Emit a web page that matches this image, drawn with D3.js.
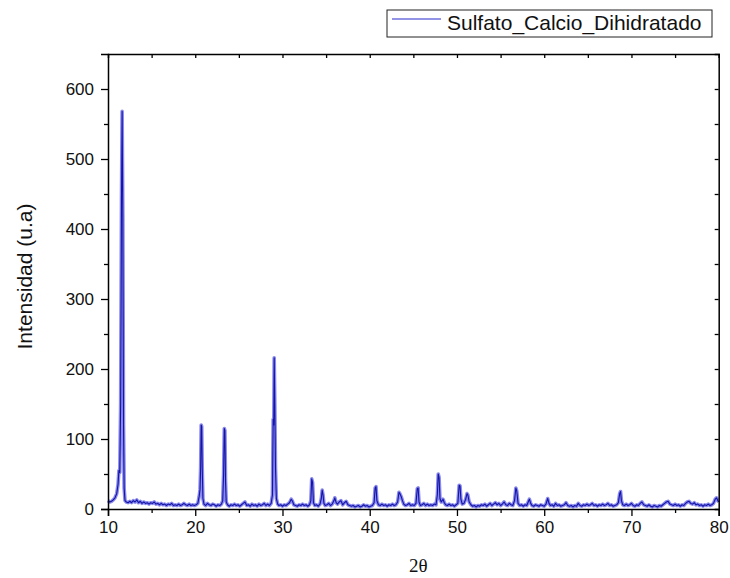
<!DOCTYPE html>
<html>
<head>
<meta charset="utf-8">
<script src="https://cdn.jsdelivr.net/npm/d3@7"></script>
<style>
  body { margin: 0; background: #fff; }
  svg { display: block; }
</style>
</head>
<body>
<div id="chart"></div>
<script>
// XRD pattern
var seriesName = "Sulfato_Calcio_Dihidratado";

var twoTheta = [
  10.0, 10.2, 10.4, 10.6, 10.8, 11.0, 11.15, 11.25, 11.35, 11.45, 11.55, 11.62, 11.7, 11.78, 11.85, 11.95,
  12.1, 12.3, 12.5, 12.7, 12.9, 13.1, 13.3, 13.5, 13.7, 13.9, 14.1, 14.3, 14.5, 14.7, 14.9,
  15.1, 15.3, 15.5, 15.7, 15.9, 16.1, 16.3, 16.5, 16.7, 16.9, 17.1, 17.3, 17.5, 17.7, 17.9,
  18.1, 18.3, 18.5, 18.7, 18.9, 19.1, 19.3, 19.5, 19.7, 19.9, 20.1, 20.3, 20.45, 20.55, 20.62,
  20.68, 20.74, 20.8, 20.88, 21.0, 21.2, 21.4, 21.6, 21.8, 22.0, 22.2, 22.4, 22.6, 22.8, 23.0,
  23.15, 23.25, 23.33, 23.4, 23.47, 23.55, 23.7, 23.9, 24.1, 24.3, 24.5, 24.7, 24.9,
  25.1, 25.3, 25.5, 25.7, 25.9, 26.1, 26.3, 26.5, 26.7, 26.9, 27.1, 27.3, 27.5, 27.7, 27.9,
  28.1, 28.3, 28.5, 28.7, 28.85, 28.93, 29.0, 29.05, 29.12, 29.2, 29.3, 29.45, 29.6, 29.8,
  30.0, 30.2, 30.4, 30.6, 30.8, 31.0, 31.15, 31.3, 31.5, 31.7, 31.9, 32.1, 32.3, 32.5, 32.7, 32.9,
  33.1, 33.25, 33.35, 33.45, 33.55, 33.7, 33.9, 34.1, 34.3, 34.45, 34.55, 34.65, 34.75, 34.9,
  35.1, 35.3, 35.5, 35.7, 35.9, 36.0, 36.15, 36.3, 36.5, 36.7, 36.9, 37.1, 37.3, 37.5, 37.7, 37.9,
  38.1, 38.3, 38.5, 38.7, 38.9, 39.1, 39.3, 39.5, 39.7, 39.9, 40.1, 40.3, 40.5, 40.62, 40.72, 40.82,
  41.0, 41.2, 41.4, 41.6, 41.8, 42.0, 42.2, 42.4, 42.6, 42.8, 43.0, 43.2, 43.35, 43.45, 43.6, 43.75, 43.9,
  44.1, 44.3, 44.5, 44.7, 44.9, 45.1, 45.3, 45.45, 45.55, 45.65, 45.8, 46.0, 46.2, 46.4, 46.6, 46.8,
  47.0, 47.2, 47.4, 47.6, 47.75, 47.85, 47.95, 48.05, 48.2, 48.4, 48.55, 48.7, 48.9,
  49.1, 49.3, 49.5, 49.7, 49.9, 50.1, 50.25, 50.35, 50.45, 50.6, 50.8, 51.0, 51.15, 51.25, 51.4, 51.6, 51.8,
  52.0, 52.2, 52.4, 52.6, 52.8, 53.0, 53.2, 53.4, 53.6, 53.8, 54.0, 54.2, 54.4, 54.6, 54.8,
  55.0, 55.2, 55.4, 55.6, 55.8, 56.0, 56.2, 56.4, 56.6, 56.75, 56.85, 57.0, 57.2, 57.4, 57.6, 57.8,
  58.0, 58.2, 58.3, 58.45, 58.6, 58.8, 59.0, 59.2, 59.4, 59.6, 59.8, 60.0, 60.2, 60.4, 60.55, 60.7, 60.9,
  61.1, 61.3, 61.5, 61.7, 61.9, 62.1, 62.3, 62.5, 62.7, 62.9, 63.1, 63.3, 63.5, 63.7, 63.9,
  64.1, 64.3, 64.5, 64.7, 64.9, 65.1, 65.3, 65.5, 65.7, 65.9, 66.1, 66.3, 66.5, 66.7, 66.9,
  67.1, 67.3, 67.5, 67.7, 67.9, 68.1, 68.3, 68.5, 68.65, 68.75, 68.85, 69.0, 69.2, 69.4, 69.6, 69.8,
  70.0, 70.2, 70.4, 70.6, 70.8, 71.0, 71.2, 71.4, 71.6, 71.8, 72.0, 72.2, 72.4, 72.6, 72.8,
  73.0, 73.2, 73.4, 73.6, 73.8, 74.0, 74.2, 74.4, 74.6, 74.8, 75.0, 75.2, 75.4, 75.6, 75.8,
  76.0, 76.2, 76.4, 76.6, 76.8, 77.0, 77.2, 77.4, 77.6, 77.8, 78.0, 78.2, 78.4, 78.6, 78.8,
  79.0, 79.2, 79.4, 79.6, 79.75, 79.9, 80.0
];

var intensity = [
  12, 10, 11, 13, 16, 22, 35, 55, 52, 150, 450, 568, 420, 120, 30, 12,
  10, 9, 11, 9, 12, 10, 13, 9, 11, 8, 10, 8, 9, 7, 9,
  8, 10, 7, 8, 6, 8, 6, 7, 5, 7, 6, 8, 5, 6, 5,
  7, 5, 6, 8, 6, 5, 7, 5, 6, 5, 6, 8, 18, 28, 60,
  120, 118, 60, 15, 7, 5, 8, 6, 5, 7, 6, 4, 6, 5, 7,
  12, 50, 115, 112, 40, 10, 6, 4, 6, 5, 7, 5, 6,
  4, 6, 8, 10, 5, 6, 4, 7, 5, 6, 4, 7, 5, 6, 8,
  5, 7, 5, 8, 20, 128, 120, 216, 150, 58, 15, 7, 5, 6,
  4, 6, 5, 7, 9, 14, 11, 6, 5, 4, 6, 5, 7, 5, 6, 4,
  6, 12, 43, 38, 9, 5, 6, 4, 7, 15, 27, 20, 8, 5,
  6, 8, 5, 7, 12, 16, 9, 7, 10, 12, 6, 9, 11, 6, 5, 4,
  5, 3, 4, 5, 3, 4, 6, 4, 5, 3, 4, 5, 9, 30, 32, 12,
  6, 5, 7, 5, 6, 4, 6, 5, 7, 5, 6, 10, 24, 22, 18, 12, 7,
  5, 6, 8, 5, 6, 5, 8, 29, 30, 10, 5, 6, 8, 5, 7, 5,
  6, 5, 7, 6, 20, 50, 45, 15, 10, 14, 9, 6, 5,
  7, 5, 6, 4, 6, 8, 34, 33, 14, 7, 8, 14, 22, 20, 10, 6, 4,
  5, 3, 5, 4, 6, 5, 7, 4, 6, 8, 5, 7, 9, 6, 8,
  5, 7, 10, 6, 5, 8, 6, 5, 12, 30, 26, 8, 5, 6, 4, 6,
  5, 11, 14, 8, 5, 4, 6, 5, 4, 6, 5, 4, 7, 15, 8, 5, 6,
  4, 8, 5, 6, 4, 5, 6, 9, 5, 4, 5, 3, 5, 4, 8,
  5, 4, 6, 5, 7, 5, 6, 8, 5, 6, 4, 6, 5, 7, 5,
  6, 8, 5, 6, 4, 5, 6, 9, 22, 25, 12, 6, 5, 7, 5, 6,
  8, 5, 4, 6, 5, 8, 10, 6, 5, 4, 6, 4, 3, 5, 4,
  3, 5, 4, 6, 8, 10, 11, 7, 6, 5, 7, 5, 6, 4, 6,
  5, 8, 10, 11, 8, 7, 9, 6, 7, 5, 6, 4, 6, 5, 7,
  5, 6, 8, 14, 16, 12, 10
];

var xTicks = [10, 20, 30, 40, 50, 60, 70, 80];
var yTicks = [0, 100, 200, 300, 400, 500, 600];

var width = 730,
    height = 578;
var margin = {top: 54, right: 11.3, bottom: 69, left: 108};

var data = twoTheta.map(function(t, i) { return {t: t, v: intensity[i]}; });

var svg = d3.select("#chart")
  .append("svg")
    .attr("width", width)
    .attr("height", height);

var x = d3.scaleLinear()
  .domain([10, 80])
  .range([margin.left, width - margin.right]);

var y = d3.scaleLinear()
  .domain([0, 650])
  .range([height - margin.bottom, margin.top]);

var font = "'Liberation Sans', Arial, sans-serif";

// the pattern: light halo under a dark core
var line = d3.line()
  .x(function(d) { return x(d.t); })
  .y(function(d) { return y(d.v); });

svg.append("path")
  .datum(data)
  .attr("d", line)
  .attr("fill", "none")
  .attr("stroke", "#8a8aec")
  .attr("stroke-width", 3.6)
  .attr("stroke-linejoin", "round");

svg.append("path")
  .datum(data)
  .attr("d", line)
  .attr("fill", "none")
  .attr("stroke", "#1414a8")
  .attr("stroke-width", 1.1)
  .attr("stroke-linejoin", "round");

// bottom axis
var xMinor = d3.range(15, 80, 10);
svg.append("g")
  .attr("transform", "translate(0," + y(0) + ")")
  .call(d3.axisBottom(x).tickValues(xTicks).tickSize(7).tickPadding(5).tickFormat(d3.format("d")));
svg.append("g")
  .attr("transform", "translate(0," + y(0) + ")")
  .call(d3.axisBottom(x).tickValues(xMinor).tickSize(4).tickFormat(""))
  .select(".domain").remove();

// left axis
var yMinor = d3.range(50, 650, 100);
svg.append("g")
  .attr("transform", "translate(" + x(10) + ",0)")
  .call(d3.axisLeft(y).tickValues(yTicks).tickSize(7).tickPadding(7).tickFormat(d3.format("d")));
svg.append("g")
  .attr("transform", "translate(" + x(10) + ",0)")
  .call(d3.axisLeft(y).tickValues(yMinor).tickSize(4).tickFormat(""))
  .select(".domain").remove();

// top and right frame with inward ticks
svg.append("g")
  .attr("transform", "translate(0," + y(650) + ")")
  .call(d3.axisBottom(x).tickValues(d3.range(15, 80, 5)).tickSize(4).tickFormat(""));
svg.append("g")
  .attr("transform", "translate(" + x(80) + ",0)")
  .call(d3.axisLeft(y).tickValues(d3.range(50, 650, 50)).tickSize(4).tickFormat(""));

svg.selectAll(".domain").attr("stroke", "#000").attr("stroke-width", 1.5);
svg.selectAll(".tick line").attr("stroke", "#000").attr("stroke-width", 1.3);
svg.selectAll(".tick text")
  .attr("font-family", font)
  .attr("font-size", "17px")
  .attr("fill", "#111");

// axis titles
svg.append("text")
  .attr("transform", "translate(32," + ((y(0) + y(650)) / 2 - 5) + ") rotate(-90)")
  .attr("text-anchor", "middle")
  .attr("font-family", font)
  .attr("font-size", "21px")
  .attr("fill", "#111")
  .text("Intensidad (u.a)");

svg.append("text")
  .attr("x", (x(10) + x(80)) / 2 + 5)
  .attr("y", 572)
  .attr("text-anchor", "middle")
  .attr("font-family", "'Liberation Serif', 'Times New Roman', serif")
  .attr("font-size", "19px")
  .attr("fill", "#111")
  .text("2\u03b8");

// legend
var legend = svg.append("g").attr("transform", "translate(387,10)");
legend.append("rect")
  .attr("width", 325)
  .attr("height", 27)
  .attr("fill", "#fff")
  .attr("stroke", "#222")
  .attr("stroke-width", 1);
legend.append("line")
  .attr("x1", 5).attr("x2", 54)
  .attr("y1", 9).attr("y2", 9)
  .attr("stroke", "#2a2ad0")
  .attr("stroke-width", 1);
legend.append("text")
  .attr("x", 60)
  .attr("y", 20)
  .attr("font-family", font)
  .attr("font-size", "21px")
  .attr("fill", "#111")
  .text(seriesName);
</script>
</body>
</html>
